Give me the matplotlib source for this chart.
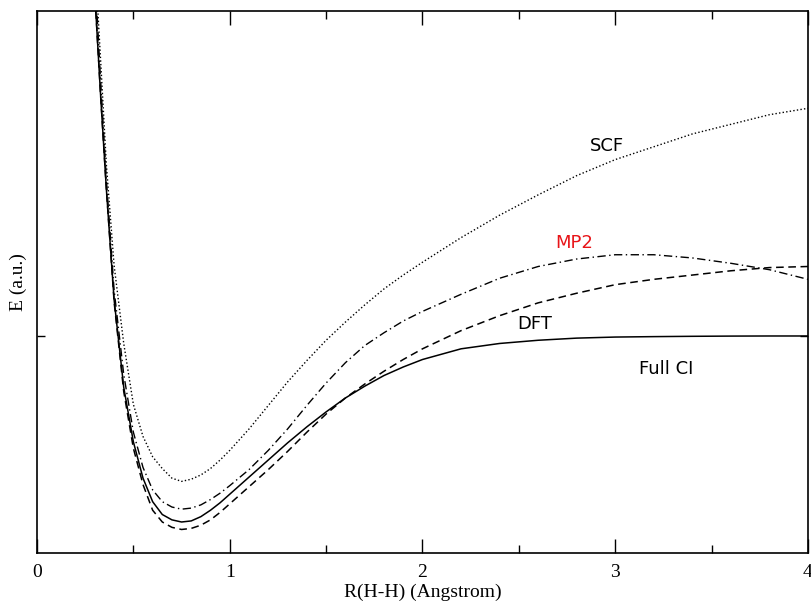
import matplotlib
matplotlib.use("Agg")
import matplotlib.pyplot as plt
from matplotlib.ticker import MultipleLocator, FixedLocator, NullFormatter

# Bond length grid (Angstrom)
R = [0.29, 0.305, 0.33, 0.36, 0.40, 0.45, 0.50, 0.55, 0.60, 0.65, 0.70, 0.75,
     0.80, 0.85, 0.90, 0.95, 1.0, 1.1, 1.2, 1.3, 1.4, 1.5, 1.6, 1.7, 1.8, 1.9,
     2.0, 2.2, 2.4, 2.6, 2.8, 3.0, 3.2, 3.4, 3.6, 3.8, 4.0]

E_fullci = [-0.639, -0.696, -0.775, -0.863, -0.966, -1.048, -1.099, -1.133, -1.155,
            -1.167, -1.172, -1.174, -1.173, -1.169, -1.163, -1.156, -1.148, -1.132,
            -1.116, -1.100, -1.085, -1.071, -1.058, -1.047, -1.037, -1.029, -1.022,
            -1.012, -1.007, -1.004, -1.002, -1.001, -1.0006, -1.0003, -1.0001,
            -1.0, -1.0]

E_dft = [-0.639, -0.696, -0.775, -0.863, -0.968, -1.052, -1.105, -1.139, -1.163,
         -1.174, -1.179, -1.181, -1.180, -1.177, -1.172, -1.165, -1.157, -1.141,
         -1.125, -1.108, -1.090, -1.073, -1.058, -1.045, -1.033, -1.022, -1.012,
         -0.995, -0.981, -0.969, -0.960, -0.952, -0.947, -0.943, -0.939, -0.936,
         -0.935]

E_mp2 = [-0.629, -0.677, -0.761, -0.854, -0.957, -1.036, -1.090, -1.123, -1.144,
         -1.155, -1.160, -1.162, -1.161, -1.158, -1.153, -1.147, -1.140, -1.125,
         -1.107, -1.087, -1.065, -1.044, -1.025, -1.009, -0.997, -0.986, -0.977,
         -0.961, -0.946, -0.935, -0.928, -0.924, -0.924, -0.927, -0.932, -0.938,
         -0.947]

E_scf = [-0.610, -0.662, -0.742, -0.840, -0.934, -1.007, -1.064, -1.094, -1.113,
         -1.124, -1.133, -1.136, -1.134, -1.130, -1.124, -1.116, -1.107, -1.087,
         -1.065, -1.043, -1.023, -1.004, -0.987, -0.971, -0.956, -0.943, -0.931,
         -0.908, -0.887, -0.868, -0.850, -0.835, -0.823, -0.811, -0.802, -0.793,
         -0.787]

x_major = [0, 1, 2, 3, 4]
x_labels = ["0", "1", "2", "3", "4"]
y_ticks = [-1.0]

fig = plt.figure(figsize=(8.12, 6.03), dpi=100)
ax = fig.add_axes([37/812, 50/603, 771/812, 542/603])

ax.plot(R, E_fullci, color="black", lw=1.1, ls="-")
ax.plot(R, E_dft, color="black", lw=1.1, ls=(0, (5, 3)))
ax.plot(R, E_mp2, color="black", lw=1.0, ls=(0, (6, 2.5, 1, 2.5)))
ax.plot(R, E_scf, color="black", lw=1.0, ls=(0, (1, 1.6)))

ax.set_xlim(0, 4)
ax.set_ylim(-1.203, -0.696)

ax.xaxis.set_major_locator(FixedLocator(x_major))
ax.set_xticklabels(x_labels)
ax.xaxis.set_minor_locator(MultipleLocator(0.5))
ax.yaxis.set_major_locator(FixedLocator(y_ticks))
ax.yaxis.set_major_formatter(NullFormatter())

ax.tick_params(axis="x", which="major", direction="in", length=10, width=1,
               top=True, bottom=True, pad=8)
ax.tick_params(axis="x", which="minor", direction="in", length=6, width=1,
               top=True, bottom=True)
ax.tick_params(axis="y", which="major", direction="in", length=6, width=1,
               left=True, right=True)
for lab in ax.get_xticklabels():
    lab.set_fontfamily("Liberation Serif")
    lab.set_fontsize(14)
for s in ax.spines.values():
    s.set_linewidth(1.2)

ax.set_xlabel("R(H-H) (Angstrom)", fontfamily="Liberation Serif", fontsize=14, labelpad=2)
ax.set_ylabel("E (a.u.)", fontfamily="Liberation Serif", fontsize=14, labelpad=4)

ax.text(2.957, -0.822, "SCF", fontsize=13, color="black", ha="center", va="center")
ax.text(2.786, -0.913, "MP2", fontsize=13, color="#e81418", ha="center", va="center")
ax.text(2.584, -0.989, "DFT", fontsize=13, color="black", ha="center", va="center")
ax.text(3.263, -1.031, "Full CI", fontsize=13, color="black", ha="center", va="center")

fig.savefig("out.png", dpi=100)
